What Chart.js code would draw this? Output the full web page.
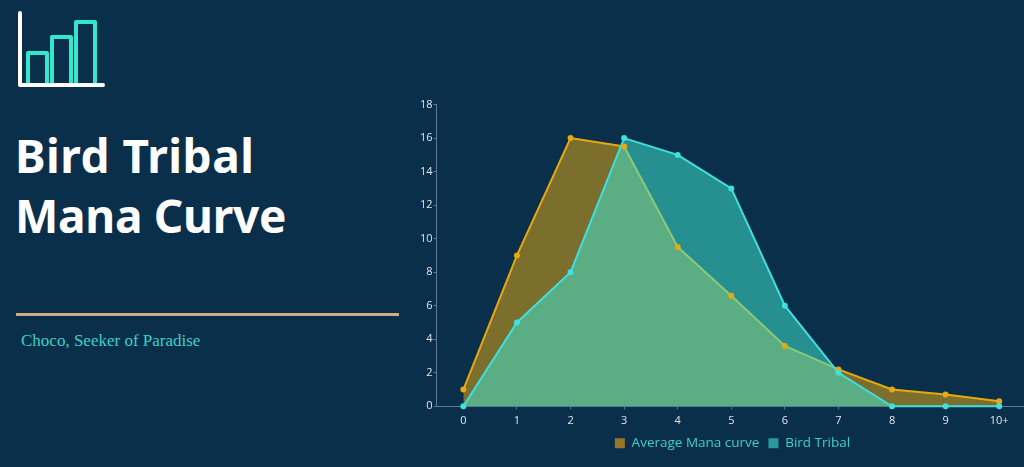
<!DOCTYPE html>
<html>
<head>
<meta charset="utf-8">
<title>Bird Tribal Mana Curve</title>
<script src="https://cdn.jsdelivr.net/npm/chart.js@4/dist/chart.umd.min.js"></script>
<style>
    html, body { margin: 0; padding: 0; width: 1024px; height: 467px; overflow: hidden; background: #0a2f4b; }
    #icon { position: absolute; left: 0; top: 0; }
    h1 { position: absolute; left: 15px; top: 125px; margin: 0; color: #fff; font: 700 46px/60px "Noto Sans", sans-serif; }
    #line1 { letter-spacing: 0.5px; }
    #line2 { letter-spacing: -0.3px; }
    #rule { position: absolute; left: 16px; top: 313px; width: 383px; height: 3px; background: #cfad80; }
    #sub { position: absolute; left: 21px; top: 331px; color: #3fd0c9; font: 17px "Liberation Serif", serif; }
    #wrap { position: absolute; left: 419px; top: 97px; width: 611px; height: 368px; }
</style>
</head>
<body>
<svg id="icon" width="120" height="100">
    <g fill="none" stroke="#35e6cf" stroke-width="4" stroke-linejoin="round">
        <path d="M28 84V53H47V84"/>
        <path d="M52 84V37H71V84"/>
        <path d="M76 84V22H95V84"/>
    </g>
    <path d="M20 13V85H103" fill="none" stroke="#fff" stroke-width="4" stroke-linecap="round" stroke-linejoin="round"/>
</svg>
<h1><span id="line1">Bird Tribal</span><br><span id="line2">Mana Curve</span></h1>
<div id="rule"></div>
<div id="sub">Choco, Seeker of Paradise</div>
<div id="wrap"><canvas id="manaChart"></canvas></div>
<script>
    var categories = ['0', '1', '2', '3', '4', '5', '6', '7', '8', '9', '10+'];
    var averageCurve = [1, 9, 16, 15.5, 9.5, 6.6, 3.6, 2.2, 1, 0.7, 0.3];
    var birdTribal = [0, 5, 8, 16, 15, 13, 6, 2, 0, 0, 0];

    var tickColor = '#dfe6ea';
    var axisColor = '#5f7a8c';
    var yellow = '#e6a912';
    var teal = '#3ee0e0';

    // the legend is not centred on the canvas in the original
    var legendShift = {
        id: 'legendShift',
        afterLayout: function(chart) {
            chart.legend.left += 8;
            chart.legend.right += 8;
            chart.legend.top -= 5;
            chart.legend.bottom -= 5;
        }
    };

    new Chart(document.getElementById('manaChart'), {
        type: 'line',
        plugins: [legendShift],
        data: {
            labels: categories,
            datasets: [{
                label: 'Average Mana curve',
                data: averageCurve,
                order: 3,
                fill: true,
                tension: 0,
                clip: false,
                backgroundColor: 'rgba(230, 170, 20, 0.52)',
                borderColor: yellow,
                borderWidth: 2,
                pointRadius: 0
            }, {
                label: 'Bird Tribal',
                data: birdTribal,
                order: 2,
                fill: true,
                tension: 0,
                clip: false,
                backgroundColor: 'rgba(62, 228, 205, 0.54)',
                borderColor: teal,
                borderWidth: 2,
                pointRadius: 0
            }, {
                // yellow dots sit above the teal fill, the line does not
                label: 'avgPoints',
                data: averageCurve,
                order: 1,
                showLine: false,
                clip: false,
                pointBackgroundColor: yellow,
                pointBorderWidth: 0,
                pointRadius: 3
            }, {
                label: 'birdPoints',
                data: birdTribal,
                order: 0,
                showLine: false,
                clip: false,
                pointBackgroundColor: teal,
                pointBorderWidth: 0,
                pointRadius: 3
            }]
        },
        options: {
            responsive: true,
            maintainAspectRatio: false,
            animation: false,
            scales: {
                x: {
                    offset: true,
                    grid: { drawOnChartArea: false, offset: false, color: axisColor, tickLength: 3 },
                    border: { color: axisColor },
                    ticks: { color: tickColor, font: { family: 'Open Sans', size: 11, weight: '500' }, padding: 5 }
                },
                y: {
                    min: 0,
                    max: 18,
                    grid: { drawOnChartArea: false, color: axisColor, tickLength: 3 },
                    border: { color: axisColor },
                    ticks: { stepSize: 2, color: tickColor, font: { family: 'Open Sans', size: 11, weight: '500' }, padding: 1 }
                }
            },
            plugins: {
                legend: {
                    position: 'bottom',
                    labels: {
                        color: '#3fd0c9',
                        font: { family: 'Open Sans', size: 13.5 },
                        boxWidth: 10,
                        boxHeight: 10,
                        padding: 9,
                        filter: function(item) {
                            return item.datasetIndex < 2;
                        },
                        sort: function(a, b) {
                            return a.datasetIndex - b.datasetIndex;
                        },
                        generateLabels: function(chart) {
                            var items = Chart.defaults.plugins.legend.labels.generateLabels(chart);
                            items.forEach(function(item) {
                                item.lineWidth = 0;
                                if (item.datasetIndex === 0) item.fillStyle = '#97752a';
                                if (item.datasetIndex === 1) item.fillStyle = '#2a9aa0';
                            });
                            return items;
                        }
                    }
                },
                tooltip: { enabled: false }
            }
        }
    });
</script>
</body>
</html>
